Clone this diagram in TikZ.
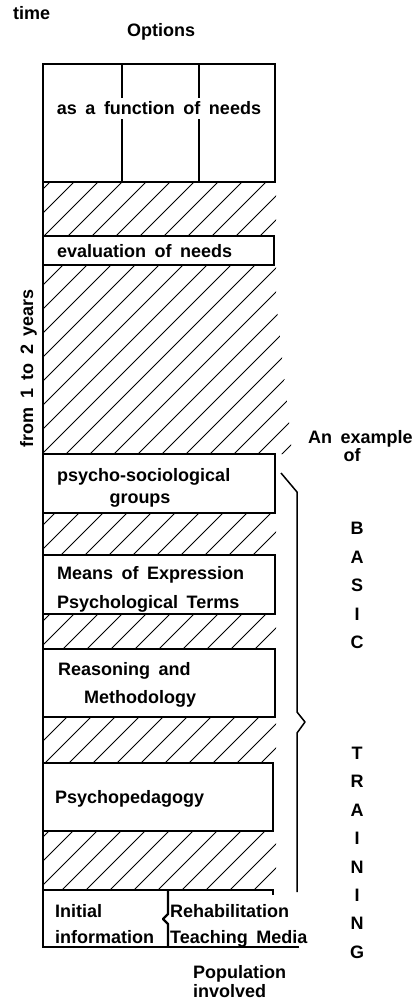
\documentclass[tikz,border=0pt]{standalone}
\usepackage{fontspec}
\setmainfont[WordSpace=1.7]{Liberation Sans}
\begin{document}
\begin{tikzpicture}[x=1pt,y=-1pt,
  lbl/.style={font=\fontsize{18}{20}\selectfont\bfseries, inner sep=0pt},
  boxline/.style={line width=1.6pt, line join=miter, line cap=rect},
  hatchline/.style={line width=0.8pt},
  braceline/.style={line width=1.5pt, line join=round}]
\useasboundingbox (0,0) rectangle (418,1000);

% hatched bands
\begin{scope}
\clip (43,182) rectangle (276,236)
      (43,265) -- (276,265) -- (276,300) -- (291,440) -- (291,454) -- (43,454) -- cycle
      (43,513) rectangle (276,555)
      (43,614) rectangle (276,649)
      (43,717) rectangle (276,763)
      (43,831) rectangle (276,890);
\foreach \c in {16,40,...,1300} \draw[hatchline] (\c,0) -- ++(-1000,1000);
\end{scope}

% boxes
\draw[boxline] (43,64) rectangle (275,182);
\draw[boxline] (122,64) -- (122,182);
\draw[boxline] (199,64) -- (199,182);
\draw[boxline] (43,236) rectangle (274,265);
\draw[boxline] (43,454) rectangle (275,513);
\draw[boxline] (43,555) rectangle (275,614);
\draw[boxline] (43,649) rectangle (275,717);
\draw[boxline] (43,763) rectangle (273,831);
\draw[boxline] (43,64) -- (43,947);
\draw[boxline] (43,890) -- (273,890) -- (273,894);
\draw[boxline] (43,947) -- (298,947);
\draw[line width=2.4pt, line join=round] (168,891) -- (168,914) -- (163,919) -- (168,924) -- (168,946);

% brace
\draw[braceline] (281,473) -- (297,492) -- (297,712) -- (305,722) -- (297,733) -- (297,892);

% texts
\node[lbl, anchor=base west] (time) at (13,20) {time};
\node[lbl, anchor=base west] (options) at (127,37) {Options};
\node[lbl, anchor=base, fill=white, inner xsep=1pt, inner ysep=4pt] (func) at (159,115) {as a function of needs};
\node[lbl, anchor=base west] (eval) at (57,258) {evaluation of needs};
\node[lbl, anchor=base, rotate=90] (years) at (33,368) {from 1 to 2 years};
\node[lbl, anchor=base west] (psy1) at (57,481) {psycho-sociological};
\node[lbl, anchor=base] (psy2) at (140,503) {groups};
\node[lbl, anchor=base west] (means1) at (57,579) {Means of Expression};
\node[lbl, anchor=base west] (means2) at (57,608) {Psychological Terms};
\node[lbl, anchor=base west] (reas1) at (58,675) {Reasoning and};
\node[lbl, anchor=base west] (reas2) at (84,703) {Methodology};
\node[lbl, anchor=base west] (ped) at (55,803) {Psychopedagogy};
\node[lbl, anchor=base west] (init1) at (55,917) {Initial};
\node[lbl, anchor=base west] (init2) at (55,943) {information};
\node[lbl, anchor=base west] (reh1) at (170,917) {Rehabilitation};
\node[lbl, anchor=base west] (reh2) at (170,943) {Teaching Media};
\node[lbl, anchor=base west] (pop1) at (193,978) {Population};
\node[lbl, anchor=base west] (pop2) at (193,997) {involved};
\node[lbl, anchor=base west] (ex1) at (308,443) {An example};
\node[lbl, anchor=base] (ex2) at (352,461) {of};
\foreach \ch [count=\i from 0] in {B,A,S,I,C}
  \node[lbl, anchor=base] (basic\i) at (357,534.5+28.5*\i) {\ch};
\foreach \ch [count=\i from 0] in {T,R,A,I,N,I,N,G}
  \node[lbl, anchor=base] (train\i) at (357,759.5+28.4*\i) {\ch};
\end{tikzpicture}
\end{document}
